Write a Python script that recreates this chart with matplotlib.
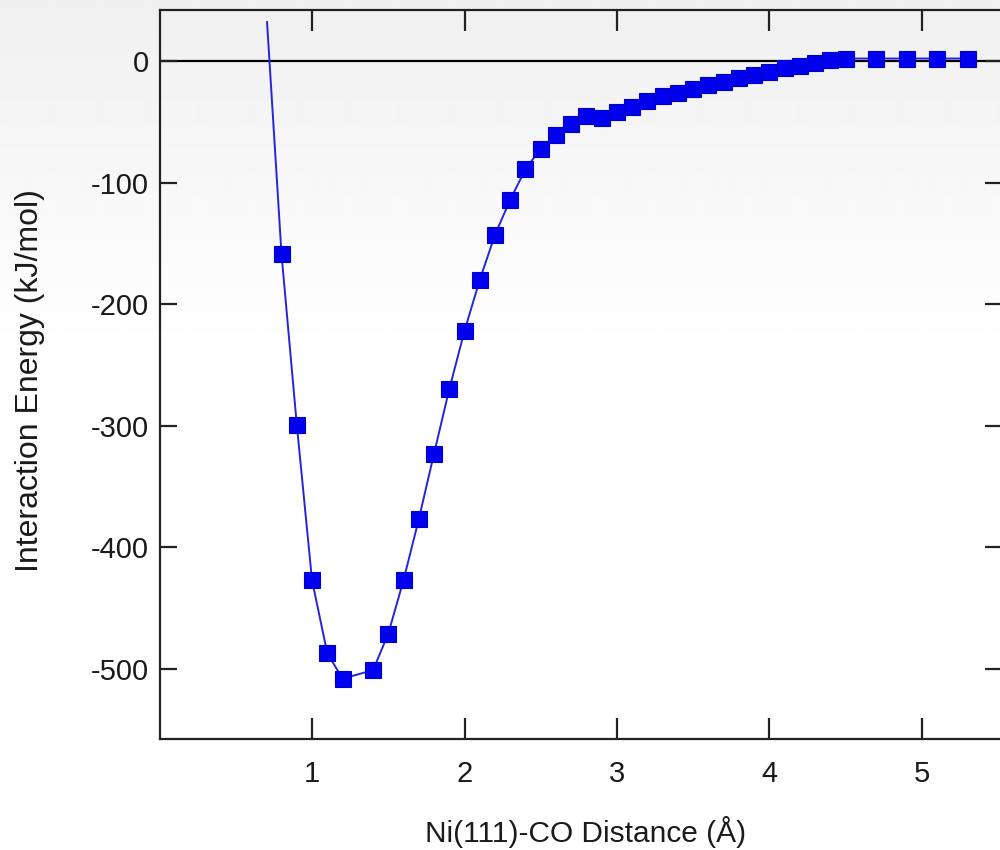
import numpy as np
import matplotlib
matplotlib.use('Agg')
import matplotlib.pyplot as plt

# Ni(111)-CO interaction energy scan
distance = [0.8, 0.9, 1.0, 1.1, 1.2, 1.4, 1.5, 1.6, 1.7, 1.8, 1.9, 2.0, 2.1, 2.2,
            2.3, 2.4, 2.5, 2.6, 2.7, 2.8, 2.9, 3.0, 3.1, 3.2, 3.3, 3.4, 3.5, 3.6,
            3.7, 3.8, 3.9, 4.0, 4.1, 4.2, 4.3, 4.4, 4.5, 4.7, 4.9, 5.1, 5.3]
energy = [-159, -299, -427, -487, -508, -501, -471, -427, -377, -323, -270, -222, -180, -143,
          -114, -89, -72, -61, -52, -45, -47, -42, -38, -33, -29, -26, -23, -20,
          -17, -14, -11.5, -9, -6, -4, -1.5, 0.5, 2, 2, 2, 2, 2]
# the drawn curve starts a bit before the first marker
curveX = [0.705] + distance
curveY = [32] + energy

xTicks = [1, 2, 3, 4, 5]
yTicks = [0, -100, -200, -300, -400, -500]

plt.rcParams['font.family'] = ['Liberation Sans', 'DejaVu Sans']
plt.rcParams['axes.unicode_minus'] = False

fig = plt.figure(figsize=(10, 8.5), dpi=100)

# faint grey-to-white backdrop
bg = fig.add_axes([0, 0, 1, 1], zorder=0)
shade = np.clip(np.linspace(0, 1, 850) / 0.42, 0, 1)
gray = 0.94 + 0.06 * shade
bg.imshow(np.tile(gray[:, None], (1, 20)), cmap='gray', vmin=0, vmax=1, aspect='auto',
          extent=[0, 1, 0, 1], interpolation='bilinear')
bg.axis('off')

ax = fig.add_axes([0.160, 1 - 739 / 850, 0.842, (739 - 10) / 850], zorder=1)
ax.set_facecolor('none')

ax.axhline(0, color='black', lw=1.6, zorder=1)
ax.plot(curveX, curveY, color='#2424dd', lw=1.4, zorder=2)
ax.plot(distance, energy, 's', ms=11.5, mfc='#0000ee', mec='#0000c8', mew=0.8, ls='none', zorder=3)

ax.set_xlim(0.003, 5.525)
ax.set_ylim(-557.6, 41.9)
ax.set_xticks(xTicks)
ax.set_yticks(yTicks)
ax.set_yticklabels([str(v) for v in yTicks])

for s in ax.spines.values():
    s.set_linewidth(1.6)
    s.set_color('#222222')
ax.tick_params(axis='both', direction='in', top=True, right=True, width=1.6,
               color='#222222', labelsize=21, labelcolor='#1a1a1a')
ax.tick_params(axis='x', length=15, pad=15)
ax.tick_params(axis='y', length=12.5, pad=8)

fig.text(0.586, 1 - 832 / 850, 'Ni(111)-CO Distance (Å)', fontsize=21.5,
         ha='center', va='center', color='#1a1a1a')
fig.text(0.030, 1 - 381 / 850, 'Interaction Energy (kJ/mol)', fontsize=23,
         rotation=90, ha='center', va='center', color='#1a1a1a')

plt.savefig('out.png', dpi=100)
